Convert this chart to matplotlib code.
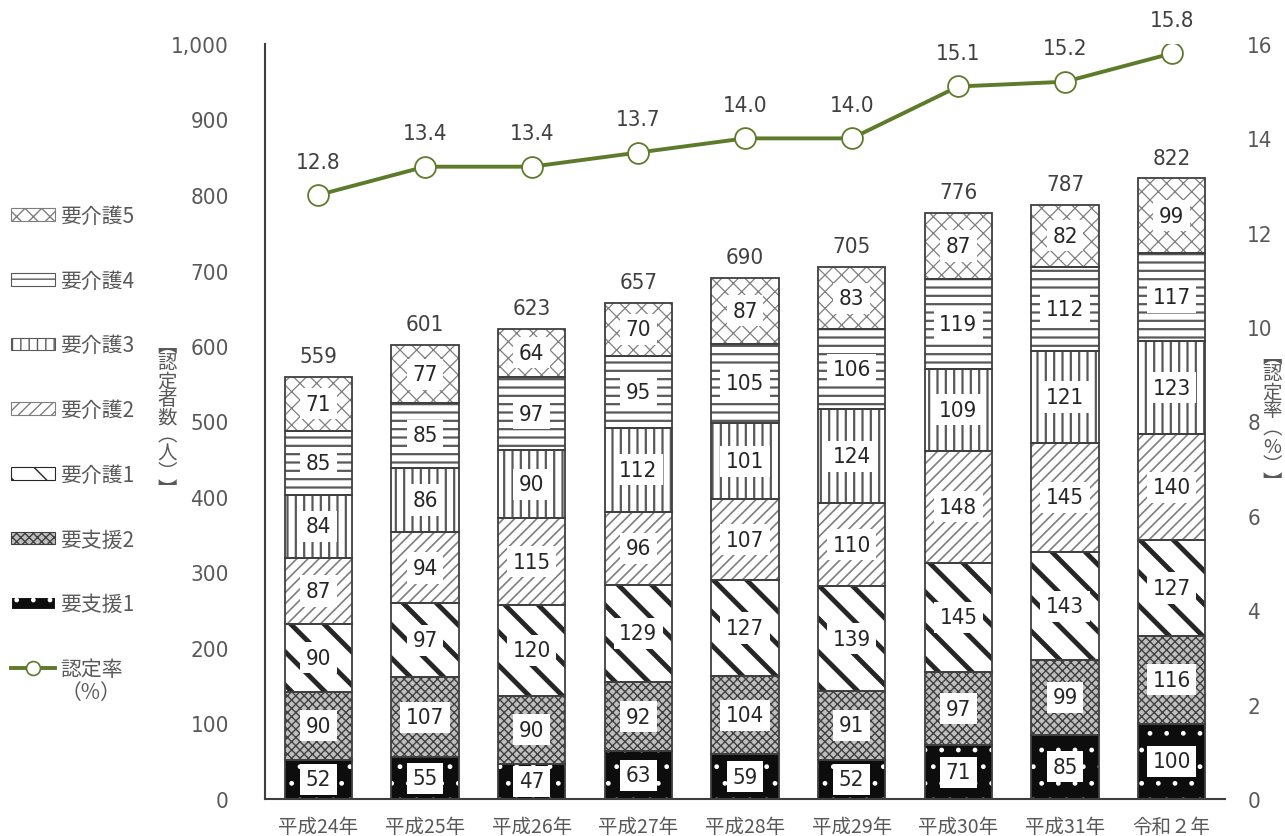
import numpy as np
import matplotlib
matplotlib.use('Agg')
import matplotlib.pyplot as plt
from matplotlib.patches import Patch
from matplotlib.lines import Line2D
from matplotlib import font_manager

# ---- data ----
years = ['平成24年', '平成25年', '平成26年', '平成27年', '平成28年',
         '平成29年', '平成30年', '平成31年', '令和２年']
shien1 = [52, 55, 47, 63, 59, 52, 71, 85, 100]
shien2 = [90, 107, 90, 92, 104, 91, 97, 99, 116]
kaigo1 = [90, 97, 120, 129, 127, 139, 145, 143, 127]
kaigo2 = [87, 94, 115, 96, 107, 110, 148, 145, 140]
kaigo3 = [84, 86, 90, 112, 101, 124, 109, 121, 123]
kaigo4 = [85, 85, 97, 95, 105, 106, 119, 112, 117]
kaigo5 = [71, 77, 64, 70, 87, 83, 87, 82, 99]
rate = [12.8, 13.4, 13.4, 13.7, 14.0, 14.0, 15.1, 15.2, 15.8]

series_names = ['要支援1', '要支援2', '要介護1', '要介護2', '要介護3', '要介護4', '要介護5']
series = [shien1, shien2, kaigo1, kaigo2, kaigo3, kaigo4, kaigo5]

# ---- fonts ----
# numbers in the original use a narrow face; take a condensed one if there is any
narrow = [f for f in font_manager.fontManager.ttflist
          if ('Narrow' in f.name or 'Condensed' in f.name or 'condensed' in str(f.stretch))
          and f.weight in (400, 'normal', 'regular') and f.style == 'normal']
narrow.sort(key=lambda f: (0 if 'Liberation' in f.name else 1 if 'DejaVu' in f.name else 2))
JP = ['Noto Sans CJK JP', 'DejaVu Sans']
plt.rcParams['font.family'] = JP


def numfont(size):
    if narrow:
        return font_manager.FontProperties(fname=narrow[0].fname, size=size)
    return font_manager.FontProperties(family='Noto Sans CJK JP', size=size)


TXT = '#595959'
GREEN = '#5E7B2B'
EDGE = '#3F3F3F'

# facecolor, hatch colour, hatch, hatch linewidth
styles = [
    ('#0D0D0D', 'white', '.', 1.0),
    ('#BFBFBF', '#404040', 'xxxx', 1.0),
    ('white', '#262626', '\\', 3.5),
    ('white', '#7F7F7F', '///', 1.2),
    ('white', '#595959', '||', 1.6),
    ('white', '#595959', '--', 1.6),
    ('white', '#7F7F7F', 'xx', 0.9),
]

fig = plt.figure(figsize=(12.85, 8.37), dpi=100)
ax = fig.add_axes([265 / 1285, 1 - 800 / 837, (1225 - 265) / 1285, (800 - 45) / 837])
x = np.arange(len(years))
width = 0.63


def hatched_bar(a, xs, h, b, st):
    fc, hc, hatch, hlw = st
    with plt.rc_context({'hatch.linewidth': hlw}):
        bars = a.bar(xs, h, width, bottom=b, color=fc, edgecolor=hc, hatch=hatch, linewidth=0, zorder=2)
        for p in bars:
            if hasattr(p, 'set_hatch_linewidth'):
                p.set_hatch_linewidth(hlw)
    a.bar(xs, h, width, bottom=b, fill=False, edgecolor=EDGE, linewidth=1.3, zorder=3)
    return bars


bottom = np.zeros(len(years))
for vals, st in zip(series, styles):
    vals = np.array(vals)
    hatched_bar(ax, x, vals, bottom, st)
    for xi, v, b in zip(x, vals, bottom):
        ax.text(xi, b + v / 2, str(v), ha='center', va='center', fontproperties=numfont(16),
                color='#262626', zorder=5,
                bbox=dict(boxstyle='square,pad=0.25', fc='white', ec='none'))
    bottom += vals

for xi, t in zip(x, bottom):
    ax.annotate(str(int(t)), (xi, t), xytext=(0, 15), textcoords='offset points',
                ha='center', va='center', fontproperties=numfont(16), color='#404040')

ax.set_xlim(-0.5, len(years) - 0.5)
ax.set_ylim(0, 1000)
ax.set_yticks(np.arange(0, 1001, 100))
ax.set_yticklabels([f'{v:,}' for v in range(0, 1001, 100)], fontproperties=numfont(16), color=TXT)
ax.set_xticks(x)
ax.set_xticklabels(years, fontsize=14, color=TXT)
ax.tick_params(axis='x', length=0, pad=12)
ax.tick_params(axis='y', length=0, pad=26)
for s in ['top', 'right']:
    ax.spines[s].set_visible(False)
ax.spines['left'].set_color(EDGE)
ax.spines['bottom'].set_color(EDGE)
ax.spines['left'].set_linewidth(1.5)
ax.spines['bottom'].set_linewidth(1.5)

ax2 = ax.twinx()
ax2.plot(x, rate, color=GREEN, linewidth=2.8, marker='o', markersize=15,
         markerfacecolor='white', markeredgecolor=GREEN, markeredgewidth=1.3, zorder=6)
for xi, r in zip(x, rate):
    ax2.annotate(f'{r:.1f}', (xi, r), xytext=(0, 24), textcoords='offset points',
                 ha='center', va='center', fontproperties=numfont(16), color='#404040')
ax2.set_ylim(0, 16)
ax2.set_yticks(np.arange(0, 17, 2))
ax2.set_yticklabels([str(v) for v in range(0, 17, 2)], fontproperties=numfont(16), color=TXT)
ax2.tick_params(axis='y', length=0, pad=16)
for s in ax2.spines.values():
    s.set_visible(False)

# vertical axis titles (characters stacked upright)
left_label = ['︻', '認', '定', '者', '数', '︵', '人', '︶', '︼']
right_label = ['︻', '認', '定', '率', '︵', '%', '︶', '︼']
fig.text(167 / 1285, 1 - 418 / 837, '\n'.join(left_label), ha='center', va='center',
         fontsize=14, color=TXT, linespacing=0.82)
fig.text(1272 / 1285, 1 - 420 / 837, '\n'.join(right_label), ha='center', va='center',
         fontsize=14, color=TXT, linespacing=0.82)

# legend
handles = []
for st in reversed(styles):
    fc, hc, hatch, hlw = st
    p = Patch(facecolor=fc, edgecolor=hc, hatch=hatch, linewidth=0.8)
    if hasattr(p, 'set_hatch_linewidth'):
        p.set_hatch_linewidth(min(hlw, 1.5))
    handles.append(p)
handles.append(Line2D([], [], color=GREEN, linewidth=2.8, marker='o', markersize=10,
                      markerfacecolor='white', markeredgecolor=GREEN, markeredgewidth=1.2))
labels = list(reversed(series_names)) + ['認定率']
leg = fig.legend(handles, labels, loc='upper left', bbox_to_anchor=(11 / 1285, 1 - 206 / 837),
                 frameon=False, fontsize=15, handlelength=2.1, handleheight=0.55,
                 handletextpad=0.25, labelspacing=2.05, borderpad=0, borderaxespad=0)
for t in leg.get_texts():
    t.set_color(TXT)

fig.canvas.draw()
bb = leg.get_texts()[-1].get_window_extent()
fig.text((bb.x0 + bb.x1) / 2 / 1285, (bb.y0 - 12) / 837, '（%）', ha='center', va='center',
         fontsize=15, color=TXT)

fig.savefig('out.png', dpi=100)
